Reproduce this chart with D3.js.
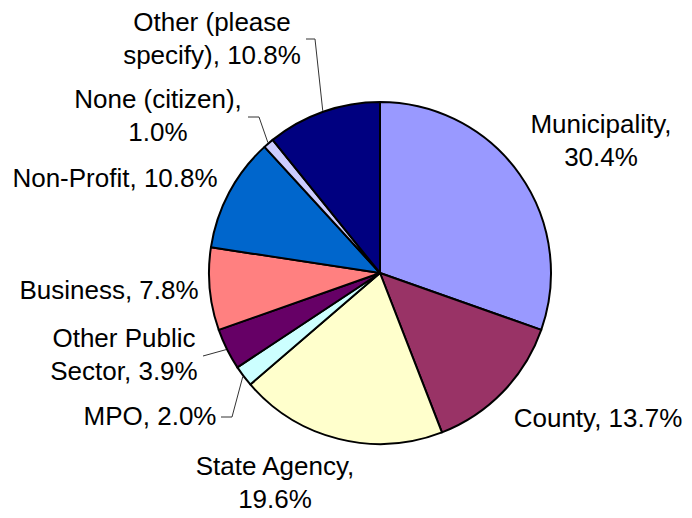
<!DOCTYPE html>
<html>
<head>
<meta charset="utf-8">
<script src="https://cdn.jsdelivr.net/npm/d3@7"></script>
<style>
  html, body { margin: 0; padding: 0; background: #fff; }
  svg { display: block; }
  text { font-family: "Liberation Sans", Arial, sans-serif; font-size: 26px; fill: #000; }
</style>
</head>
<body>
<svg id="chart" width="692" height="518"></svg>
<script>
// ---- data ----
const categories = ["Municipality", "County", "State Agency", "MPO", "Other Public Sector",
                    "Business", "Non-Profit", "None (citizen)", "Other (please specify)"];
const values = [30.4, 13.7, 19.6, 2.0, 3.9, 7.8, 10.8, 1.0, 10.8];
const colors = ["#9999FF", "#993366", "#FFFFCC", "#CCFFFF", "#660066",
                "#FF8080", "#0066CC", "#CCCCFF", "#000080"];

// ---- layout (label placement) ----
const cx = 380, cy = 273, R = 171;
const lineH = 33;
// x: centre of label, y: first baseline, firstWords: words on first line (0 = single line)
// leader: elbow points for leader lines (null = none)
const labelLayout = [
  { x: 601, y: 133, firstWords: 1, leader: null },
  { x: 598, y: 427, firstWords: 0, leader: null },
  { x: 275, y: 475, firstWords: 2, leader: null },
  { x: 150, y: 425, firstWords: 0, leader: [[232, 417], [221, 417]] },
  { x: 124, y: 347, firstWords: 2, leader: [[203, 356]] },
  { x: 109, y: 299, firstWords: 0, leader: null },
  { x: 115, y: 187, firstWords: 0, leader: null },
  { x: 158, y: 108, firstWords: 2, leader: [[259, 117], [248, 117]] },
  { x: 212, y: 31, firstWords: 2, leader: [[315, 39], [306, 39]] }
];

const data = categories.map((c, i) => ({ cat: c, value: values[i], color: colors[i], lay: labelLayout[i] }));

const svg = d3.select("#chart");
const g = svg.append("g").attr("transform", `translate(${cx},${cy})`);

const pie = d3.pie().sort(null).value(d => d.value).startAngle(0).endAngle(2 * Math.PI);
const arc = d3.arc().innerRadius(0).outerRadius(R);
const arcs = pie(data);

g.selectAll("path.slice")
  .data(arcs)
  .join("path")
  .attr("class", "slice")
  .attr("d", arc)
  .attr("fill", d => d.data.color)
  .attr("stroke", "#000")
  .attr("stroke-width", 2)
  .attr("stroke-linejoin", "round");

// leader lines
arcs.filter(a => a.data.lay.leader).forEach(a => {
  const mid = (a.startAngle + a.endAngle) / 2;
  const start = [cx + Math.sin(mid) * (R + 1), cy - Math.cos(mid) * (R + 1)];
  const pts = [start].concat(a.data.lay.leader);
  svg.append("path")
    .attr("d", d3.line()(pts))
    .attr("fill", "none")
    .attr("stroke", "#333")
    .attr("stroke-width", 1);
});

// labels
const fmt = d3.format(".1f");
arcs.forEach(a => {
  const d = a.data;
  const full = `${d.cat}, ${fmt(d.value)}%`;
  const words = full.split(" ");
  const lines = d.lay.firstWords > 0
    ? [words.slice(0, d.lay.firstWords).join(" "), words.slice(d.lay.firstWords).join(" ")]
    : [full];
  const t = svg.append("text")
    .attr("text-anchor", "middle")
    .attr("x", d.lay.x)
    .attr("y", d.lay.y);
  lines.forEach((ln, i) => {
    t.append("tspan")
      .attr("x", d.lay.x)
      .attr("dy", i === 0 ? 0 : lineH)
      .text(ln);
  });
});
</script>
</body>
</html>
